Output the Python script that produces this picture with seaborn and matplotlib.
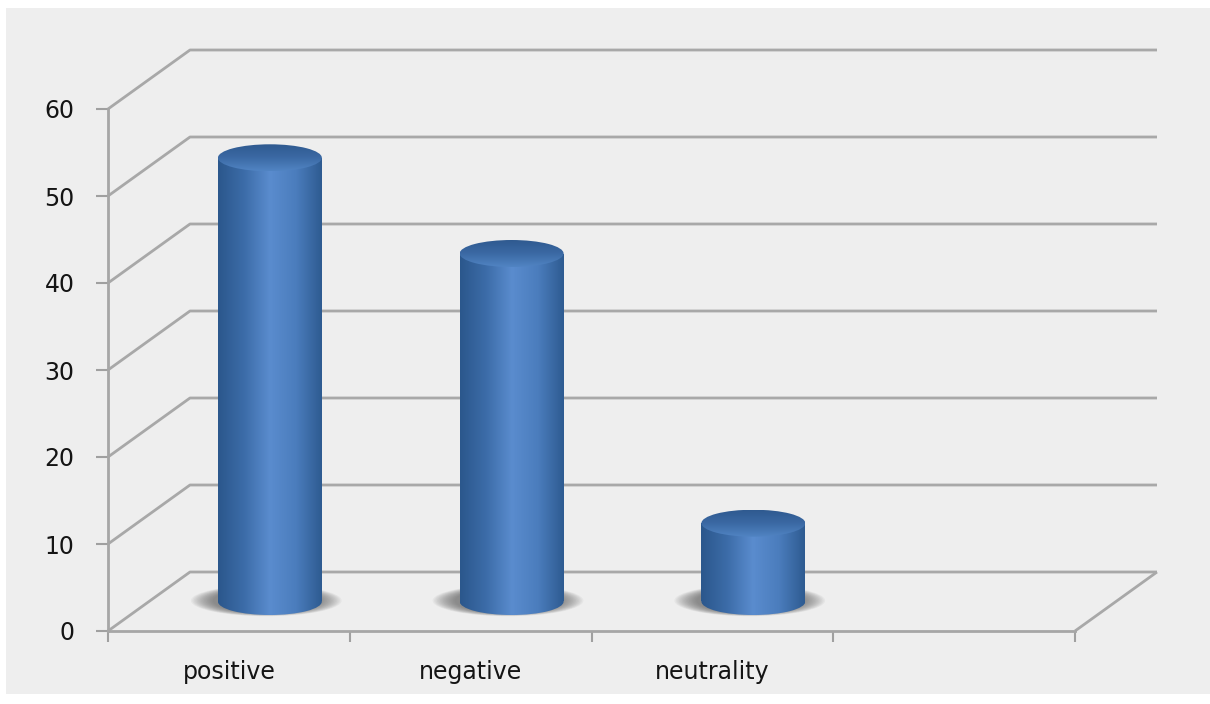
import numpy as np
import pandas as pd
import seaborn as sns
import matplotlib.pyplot as plt
from matplotlib import transforms
from matplotlib.patches import Ellipse, Rectangle
from matplotlib.colors import LinearSegmentedColormap

# data
categories = ["positive", "negative", "neutrality"]
values = [51, 40, 9]
n_slots = 4  # Excel left an empty fourth slot
y_ticks = [0, 10, 20, 30, 40, 50, 60]

W, H = 1210, 704
DEPTH_X, DEPTH_Y = 82, 59  # depth of the fake 3d box, in pixels

fig = plt.figure(figsize=(W / 100, H / 100), dpi=100)
fig.patches.append(Rectangle((6 / W, 10 / H), 1204 / W, 686 / H, transform=fig.transFigure,
                             facecolor="#eeeeee", edgecolor="none", zorder=-10))
ax = fig.add_axes([108 / W, (H - 631) / H, (1075 - 108) / W, (631 - 109) / H])
ax.set_facecolor("none")

df = pd.DataFrame({"sentiment": categories, "share": values})
sns.barplot(data=df, x="sentiment", y="share", color="#4a7ab8", width=0.43, ax=ax)
ax.set_xlim(-0.5, n_slots - 0.5)
ax.set_ylim(0, 60)

px_x = ax.bbox.width / n_slots
px_y = ax.bbox.height / 60
dx, dy = DEPTH_X / px_x, DEPTH_Y / px_y
mid = transforms.offset_copy(ax.transData, fig=fig, x=DEPTH_X / 2, y=DEPTH_Y / 2, units="dots")

# back wall gridlines + floor
grid_kw = dict(color="#a8a8a8", lw=2, zorder=0.5, clip_on=False, solid_capstyle="butt")
for yv in y_ticks:
    ax.plot([-0.5, -0.5 + dx, n_slots - 0.5 + dx], [yv, yv + dy, yv + dy], **grid_kw)
ax.plot([n_slots - 0.5, n_slots - 0.5 + dx], [0, dy], **grid_kw)

# cylinders
body_cmap = LinearSegmentedColormap.from_list(
    "body", ["#2b578c", "#3c6ca8", "#5a8cce", "#4b7dbd", "#2e5b91"])
top_cmap = LinearSegmentedColormap.from_list("top", ["#2f5a90", "#3b69a4", "#5184c3"])
ell_h = 27 / px_y
grad = np.linspace(0, 1, 256).reshape(1, -1)
vgrad = np.linspace(0, 1, 64).reshape(-1, 1)

for bar in list(ax.patches):
    x0, w, h = bar.get_x(), bar.get_width(), bar.get_height()
    cx = x0 + w / 2
    bar.set_visible(False)

    # soft shadow on the floor
    for k in range(16):
        s = 1 - k / 16
        ax.add_patch(Ellipse((cx - 0.015, 0.1), w * (1.0 + 0.45 * s), ell_h * (0.9 + 0.25 * s),
                             transform=mid, facecolor="#505050", edgecolor="none",
                             alpha=0.055, zorder=1, clip_on=False))

    clip_body = Rectangle((x0, 0), w, h, transform=mid)
    clip_base = Ellipse((cx, 0), w, ell_h, transform=mid)
    for clip in (clip_body, clip_base):
        im = ax.imshow(grad, cmap=body_cmap, extent=(x0, x0 + w, -ell_h, h), aspect="auto",
                       transform=mid, zorder=2, interpolation="bilinear")
        im.set_clip_path(clip)

    clip_top = Ellipse((cx, h), w, ell_h, transform=mid)
    im = ax.imshow(vgrad, cmap=top_cmap, extent=(x0, x0 + w, h - ell_h / 2, h + ell_h / 2),
                   origin="upper", aspect="auto", transform=mid, zorder=3, interpolation="bilinear")
    im.set_clip_path(clip_top)

ax.set_xlim(-0.5, n_slots - 0.5)
ax.set_ylim(0, 60)

# axes styling
ax.set_yticks(y_ticks)
ax.set_xticks(range(len(categories)), labels=categories)
ax.set_xticks(np.arange(-0.5, n_slots), minor=True)
ax.tick_params(axis="x", which="major", length=0, pad=21, labelsize=17, labelcolor="#141414")
ax.tick_params(axis="x", which="minor", length=8, width=1.5, color="#a0a0a0", direction="out")
ax.tick_params(axis="y", length=9, width=1.5, color="#a0a0a0", pad=15, labelsize=17,
               labelcolor="#141414")
ax.set_xlabel("")
ax.set_ylabel("")
for s in ["top", "right"]:
    ax.spines[s].set_visible(False)
for s in ["left", "bottom"]:
    ax.spines[s].set_color("#a6a6a6")
    ax.spines[s].set_linewidth(2)

fig.savefig("out.png", dpi=100, facecolor="white")
